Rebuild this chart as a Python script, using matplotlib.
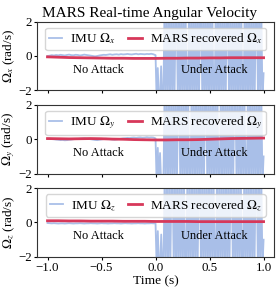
import numpy as np
import matplotlib
matplotlib.use("Agg")
import matplotlib.pyplot as plt

plt.rcParams['font.family'] = ['Liberation Serif', 'DejaVu Serif']
plt.rcParams['mathtext.fontset'] = 'stix'

title = "MARS Real-time Angular Velocity"
axis_names = ["x", "y", "z"]
xticks = [-1.0, -0.5, 0.0, 0.5, 1.0]
yticks = [-2, 0, 2]

# IMU before attack (t = -1 .. 0)
imu_pre_x = [0.0, 0.02, 0.05, 0.03, 0.06, 0.04, 0.07, 0.05, 0.03, 0.06, 0.08, 0.05, 0.04, 0.07, 0.06,
             0.03, 0.05, 0.08, 0.06, 0.04, 0.02, 0.0, -0.02, 0.0, 0.03, 0.05, 0.07, 0.06, 0.08, 0.1,
             0.07, 0.09, 0.1, 0.08, 0.11, 0.09, 0.1, 0.12, 0.1, 0.09, 0.11, 0.13, 0.1, 0.12, 0.11,
             0.1, 0.12, 0.11, 0.13, 0.1, 0.05]
imu_pre_y = [0.02, 0.03, 0.01, 0.0, -0.02, -0.03, -0.05, -0.04, -0.06, -0.05, -0.03, -0.02, 0.0, 0.02,
             0.01, 0.03, 0.04, 0.05, 0.03, 0.02, 0.0, -0.02, -0.04, -0.05, -0.03, -0.01, 0.01, 0.03,
             0.02, 0.0, -0.02, -0.03, -0.01, 0.01, 0.03, 0.05, 0.06, 0.08, 0.07, 0.09, 0.1, 0.08,
             0.1, 0.11, 0.09, 0.1, 0.12, 0.1, 0.11, 0.1, 0.05]
imu_pre_z = [-0.03, -0.04, -0.05, -0.04, -0.05, -0.06, -0.05, -0.05, -0.06, -0.05, -0.04, -0.05,
             -0.06, -0.05, -0.05, -0.04, -0.05, -0.06, -0.05, -0.05, -0.04, -0.05, -0.05, -0.06,
             -0.05, -0.04, -0.05, -0.05, -0.06, -0.05, -0.05, -0.04, -0.05, -0.05, -0.06, -0.05,
             -0.04, -0.05, -0.05, -0.06, -0.05, -0.05, -0.04, -0.05, -0.05, -0.06, -0.05, -0.05,
             -0.04, -0.05, -0.05]

# IMU under attack (t = 0 .. 1)
H, L = 2.6, -2.6
imu_att_x = [-0.1, -2.6, -0.7, -2.6, -2.6, -0.6, -2.6, -2.6,
             H, L, H, L, H, L, H, L, H, L, H, H, L, H, L, H, L, H, L, H, L, L,
             H, L, H, L, H, L, H, L, H, L, H, H, L, H, L, H, L, H, L, H, L, H,
             L, L, H, L, H, L, H, L, H, L, H, L, H, H, L, H, L, H, L, H, L, H,
             L, H, L, H, L, L, H, L, H, L, H, L, H, L, H, L, H, H, L, H, L, H, L, -1.0]
imu_att_y = [-0.2, -2.6, -0.5, -2.6, -0.8, -2.6, -2.6, -2.6,
             H, L, H, L, H, L, H, L, H, L, H, L, H, H, L, H, L, H, L, H, L, H,
             L, L, H, L, H, L, H, L, H, L, H, L, H, L, H, H, L, H, L, H, L, H,
             L, H, L, H, L, L, H, L, H, L, H, L, H, L, H, L, H, L, H, H, L, H,
             L, H, L, H, L, H, L, L, H, L, H, L, H, L, H, L, H, L, H, L, H, L, -1.0]
imu_att_z = [-0.1, -2.6, -0.5, -2.6, -2.6, -0.7, -2.6, -2.6,
             H, L, H, L, H, L, H, H, L, H, L, H, L, H, L, H, L, H, L, L, H, L,
             H, L, H, L, H, L, H, L, H, H, L, H, L, H, L, H, L, H, L, H, L, H,
             L, L, H, L, H, L, H, L, H, L, H, L, H, L, H, H, L, H, L, H, L, H,
             L, H, L, L, H, L, H, L, H, L, H, L, H, L, H, H, L, H, L, H, L, -1.0]

# MARS recovered (t = -1 .. 1)
mars_x = [-0.05, -0.07, -0.09, -0.1, -0.11, -0.12, -0.13, -0.13, -0.14, -0.14, -0.14,
          -0.13, -0.13, -0.12, -0.12, -0.11, -0.11, -0.1, -0.1, -0.1, -0.1]
mars_y = [0.04, 0.03, 0.02, 0.03, 0.04, 0.03, 0.01, 0.0, -0.02, -0.03, -0.04,
          -0.04, -0.03, -0.03, -0.02, 0.0, 0.02, 0.04, 0.05, 0.06, 0.07]
mars_z = [0.1, 0.1, 0.09, 0.09, 0.08, 0.08, 0.08, 0.07, 0.07, 0.07, 0.06,
          0.06, 0.06, 0.06, 0.05, 0.05, 0.05, 0.05, 0.05, 0.05, 0.05]

imu_pre = [imu_pre_x, imu_pre_y, imu_pre_z]
imu_att = [imu_att_x, imu_att_y, imu_att_z]
mars = [mars_x, mars_y, mars_z]

blue = '#a9bfe8'
red = '#d7385a'
spine_c = '#333333'

fig, axes = plt.subplots(3, 1, figsize=(2.78, 2.88), dpi=100, sharex=True)
fig.subplots_adjust(left=0.132, right=0.987, top=0.925, bottom=0.108, hspace=0.21)

for i, ax in enumerate(axes):
    n = axis_names[i]
    t_pre = np.linspace(-1, 0, len(imu_pre[i]))
    t_att = np.linspace(0, 1, len(imu_att[i]))
    t_imu = np.concatenate([t_pre, t_att[1:]])
    v_imu = np.concatenate([imu_pre[i], imu_att[i][1:]])
    t_m = np.linspace(-1, 1, len(mars[i]))
    ax.plot(t_imu, v_imu, color=blue, lw=1.3, label=r"IMU $\Omega_%s$" % n)
    ax.plot(t_m, mars[i], color=red, lw=2.0, label=r"MARS recovered $\Omega_%s$" % n)
    ax.set_ylim(-2, 2)
    ax.set_xlim(-1.1, 1.1)
    ax.set_yticks(yticks)
    ax.set_xticks(xticks)
    ax.set_ylabel(r"$\Omega_%s$ (rad/s)" % n, fontsize=9.5, labelpad=1)
    ax.text(-0.53, -0.8, "No Attack", ha='center', va='center', fontsize=8.9)
    ax.text(0.54, -0.8, "Under Attack", ha='center', va='center', fontsize=8.9)
    ax.legend(loc='upper center', ncol=2, fontsize=9.5, handlelength=1.0,
              columnspacing=1.0, handletextpad=0.6, borderpad=0.3, framealpha=0.8,
              borderaxespad=0.45)
    for s in ax.spines.values():
        s.set_color(spine_c)
        s.set_linewidth(0.8)
    ax.tick_params(labelsize=9.3, length=2.5, width=0.8, colors='black', pad=1.2)

axes[0].set_title(title, fontsize=11, pad=3, x=0.473)
axes[-1].set_xlabel("Time (s)", fontsize=9.7, labelpad=1)

fig.savefig("out.png", dpi=100)
